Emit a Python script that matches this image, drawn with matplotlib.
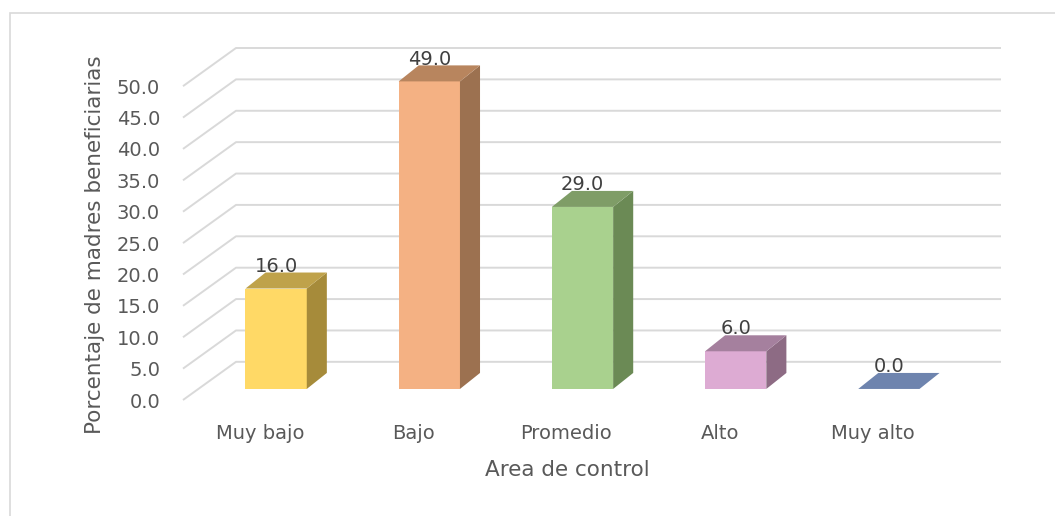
import matplotlib.pyplot as plt
from matplotlib.patches import Polygon, Rectangle

# datos
categorias = ['Muy bajo', 'Bajo', 'Promedio', 'Alto', 'Muy alto']
porcentajes = [16.0, 49.0, 29.0, 6.0, 0.0]
ticks_y = [0, 5, 10, 15, 20, 25, 30, 35, 40, 45, 50]
col_frente = ['#FFD966', '#F4B183', '#A9D18E', '#DDABD3', '#8FAADC']
col_lado = ['#A68B3A', '#9C7150', '#6B8A55', '#8D6B84', '#5D7098']
col_arriba = ['#BFA24A', '#B8855E', '#7F9D67', '#A5809E', '#6E84AE']

plt.rcParams['font.family'] = ['DejaVu Sans']

W, H = 1055, 516
fig = plt.figure(figsize=(W / 100, H / 100), dpi=100)
ax = fig.add_axes([183 / W, (H - 400) / H, (1001 - 183) / W, (400 - 48) / H])

# geometria del "3D"
x0, x1 = -0.608, 4.732
piso_frente = -1.76     # linea frontal del piso (en unidades de y)
fondo_dx, fondo_dy = 0.346, 6.08
ancho = 0.40
prof_dx, prof_dy = 0.131, 2.55

ax.set_xlim(x0, x1)
ax.set_ylim(piso_frente, 50 + piso_frente + fondo_dy)

# lineas de cuadricula (pared del fondo + diagonal del piso)
for v in ticks_y:
    yf = v + piso_frente
    yb = yf + fondo_dy
    ax.plot([x0, x0 + fondo_dx, x1], [yf, yb, yb], color='#d9d9d9',
            lw=1.4, zorder=1, clip_on=False, solid_capstyle='butt')

# barras
for i, v in enumerate(porcentajes):
    l, r = i - ancho / 2, i + ancho / 2
    frente = [(l, 0), (r, 0), (r, v), (l, v)]
    lado = [(r, 0), (r + prof_dx, prof_dy), (r + prof_dx, v + prof_dy), (r, v)]
    arriba = [(l, v), (r, v), (r + prof_dx, v + prof_dy), (l + prof_dx, v + prof_dy)]
    if v > 0:
        ax.add_patch(Polygon(frente, closed=True, fc=col_frente[i], ec='none', zorder=3))
        ax.add_patch(Polygon(lado, closed=True, fc=col_lado[i], ec='none', zorder=3))
    ax.add_patch(Polygon(arriba, closed=True, fc=col_arriba[i], ec='none', zorder=3))
    ax.text(i, v + prof_dy - 0.5, f'{v:.1f}', ha='center', va='bottom',
            fontsize=14, color='#404040', zorder=4)

# ejes
ax.set_yticks([v + piso_frente for v in ticks_y])
ax.set_yticklabels([f'{v:.1f}' for v in ticks_y])
ax.set_xticks([i - 0.105 for i in range(len(categorias))])
ax.set_xticklabels(categorias)
ax.tick_params(axis='y', length=0, pad=16.5, labelsize=14, labelcolor='#595959')
ax.tick_params(axis='x', length=0, pad=17, labelsize=14, labelcolor='#595959')
for s in ax.spines.values():
    s.set_visible(False)
ax.patch.set_alpha(0)

ax.set_xlabel('Area de control', fontsize=15.5, color='#595959')
ax.xaxis.set_label_coords((567 - 183) / 818, (400 - 470) / 352)
ax.set_ylabel('Porcentaje de madres beneficiarias', fontsize=15.5, color='#595959')
ax.yaxis.set_label_coords((95 - 183) / 818, (400 - 245) / 352)
ax.yaxis.label.set_verticalalignment('center')
ax.xaxis.label.set_verticalalignment('center')

# borde del grafico
fig.patches.append(Rectangle((10 / W, -0.1), 1.2, (H - 13) / H + 0.1,
                             transform=fig.transFigure, fill=False,
                             ec='#d9d9d9', lw=1.2))

fig.savefig('out.png', dpi=100)
